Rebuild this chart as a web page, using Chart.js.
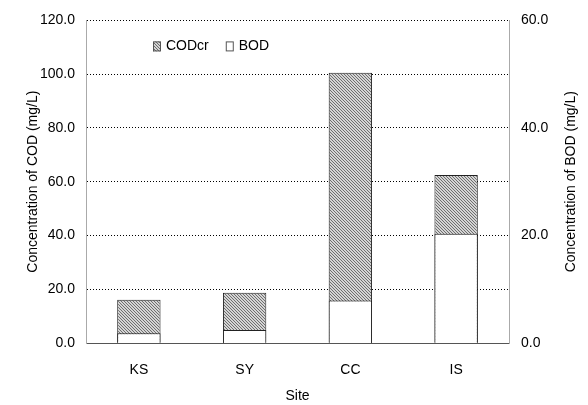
<!DOCTYPE html>
<html>
<head>
<meta charset="utf-8">
<script src="https://cdn.jsdelivr.net/npm/chart.js@4.4.0/dist/chart.umd.min.js"></script>
<style>
  html, body { margin: 0; padding: 0; background: #fff; }
  #wrap { width: 588px; height: 405px; }
</style>
</head>
<body>
<div id="wrap"><canvas id="chart1"></canvas></div>
<script>
const sites = ['KS', 'SY', 'CC', 'IS'];
const codValues = [16.1, 18.7, 100.5, 62.5];
const bodValues = [1.8, 2.4, 7.9, 20.3];
const seriesNames = ['CODcr', 'BOD'];
const rightTitle = 'Concentration of BOD (mg/L)';

// fine hatched fill for the COD bars
function makeHatch() {
  const c = document.createElement('canvas');
  c.width = 3;
  c.height = 3;
  const g = c.getContext('2d');
  g.fillStyle = '#d4d4d4';
  g.fillRect(0, 0, 3, 3);
  g.fillStyle = '#6e6e6e';
  for (let i = 0; i < 3; i++) {
    g.fillRect(i, i, 1, 1);
  }
  return g.createPattern(c, 'repeat');
}
const hatch = makeHatch();

const font = { family: 'Liberation Sans, Arial, sans-serif', size: 14 };

// legend inside the plot + right title reading bottom to top
const extras = {
  id: 'extras',
  afterDraw(chart) {
    const ctx = chart.ctx;
    const area = chart.chartArea;
    const x0 = area.left + 67;
    const y0 = area.top + 26;
    ctx.save();
    ctx.font = '14px ' + font.family;
    ctx.textBaseline = 'middle';
    let x = x0;
    const fills = [hatch, '#ffffff'];
    for (let i = 0; i < seriesNames.length; i++) {
      ctx.fillStyle = fills[i];
      ctx.fillRect(x, y0 - 5, 8, 10);
      ctx.strokeStyle = '#555';
      ctx.lineWidth = 1;
      ctx.strokeRect(x + 0.5, y0 - 4.5, 7, 9);
      ctx.fillStyle = '#000';
      ctx.fillText(seriesNames[i], x + 13, y0);
      x += 13 + ctx.measureText(seriesNames[i]).width + 17;
    }
    ctx.translate(chart.width - 17, (area.top + area.bottom) / 2);
    ctx.rotate(-Math.PI / 2);
    ctx.textAlign = 'center';
    ctx.fillText(rightTitle, 0, 0);
    ctx.restore();
  }
};

new Chart('chart1', {
  type: 'bar',
  data: {
    labels: sites,
    datasets: [
      {
        label: seriesNames[0],
        data: codValues,
        yAxisID: 'y',
        backgroundColor: hatch,
        borderColor: '#222',
        borderWidth: 1,
        grouped: false,
        order: 2,
        barPercentage: 0.41,
        categoryPercentage: 1
      },
      {
        label: seriesNames[1],
        data: bodValues,
        yAxisID: 'y2',
        backgroundColor: '#ffffff',
        borderColor: '#222',
        borderWidth: 1,
        grouped: false,
        order: 1,
        barPercentage: 0.41,
        categoryPercentage: 1
      }
    ]
  },
  options: {
    responsive: true,
    maintainAspectRatio: false,
    animation: false,
    layout: { padding: { top: 17, left: 0, right: 0, bottom: 0 } },
    plugins: {
      legend: { display: false },
      tooltip: { enabled: false }
    },
    scales: {
      x: {
        afterFit: s => { s.height = 62; },
        grid: { display: false, drawTicks: false },
        border: { display: true, color: '#555', width: 1 },
        ticks: { color: '#000', font: font, padding: 19 },
        title: { display: true, text: 'Site', color: '#000', font: font, padding: { top: 0, bottom: 0 } }
      },
      y: {
        position: 'left',
        min: 0,
        max: 120,
        afterFit: s => { s.width = 86; },
        ticks: { stepSize: 20, color: '#000', font: font, padding: 11, callback: v => v.toFixed(1) },
        grid: { color: '#000', lineWidth: 1, drawTicks: false },
        border: { display: true, color: '#aaa', dash: [1, 2] },
        title: { display: true, text: 'Concentration of COD (mg/L)', color: '#000', font: font, padding: { top: 25, bottom: 0 } }
      },
      y2: {
        position: 'right',
        min: 0,
        max: 60,
        afterFit: s => { s.width = 79; },
        ticks: { stepSize: 20, color: '#000', font: font, padding: 12, callback: v => v.toFixed(1) },
        grid: { display: false, drawTicks: false },
        border: { display: true, color: '#aaa' },
        title: { display: false }
      }
    }
  },
  plugins: [extras]
});
</script>
</body>
</html>
